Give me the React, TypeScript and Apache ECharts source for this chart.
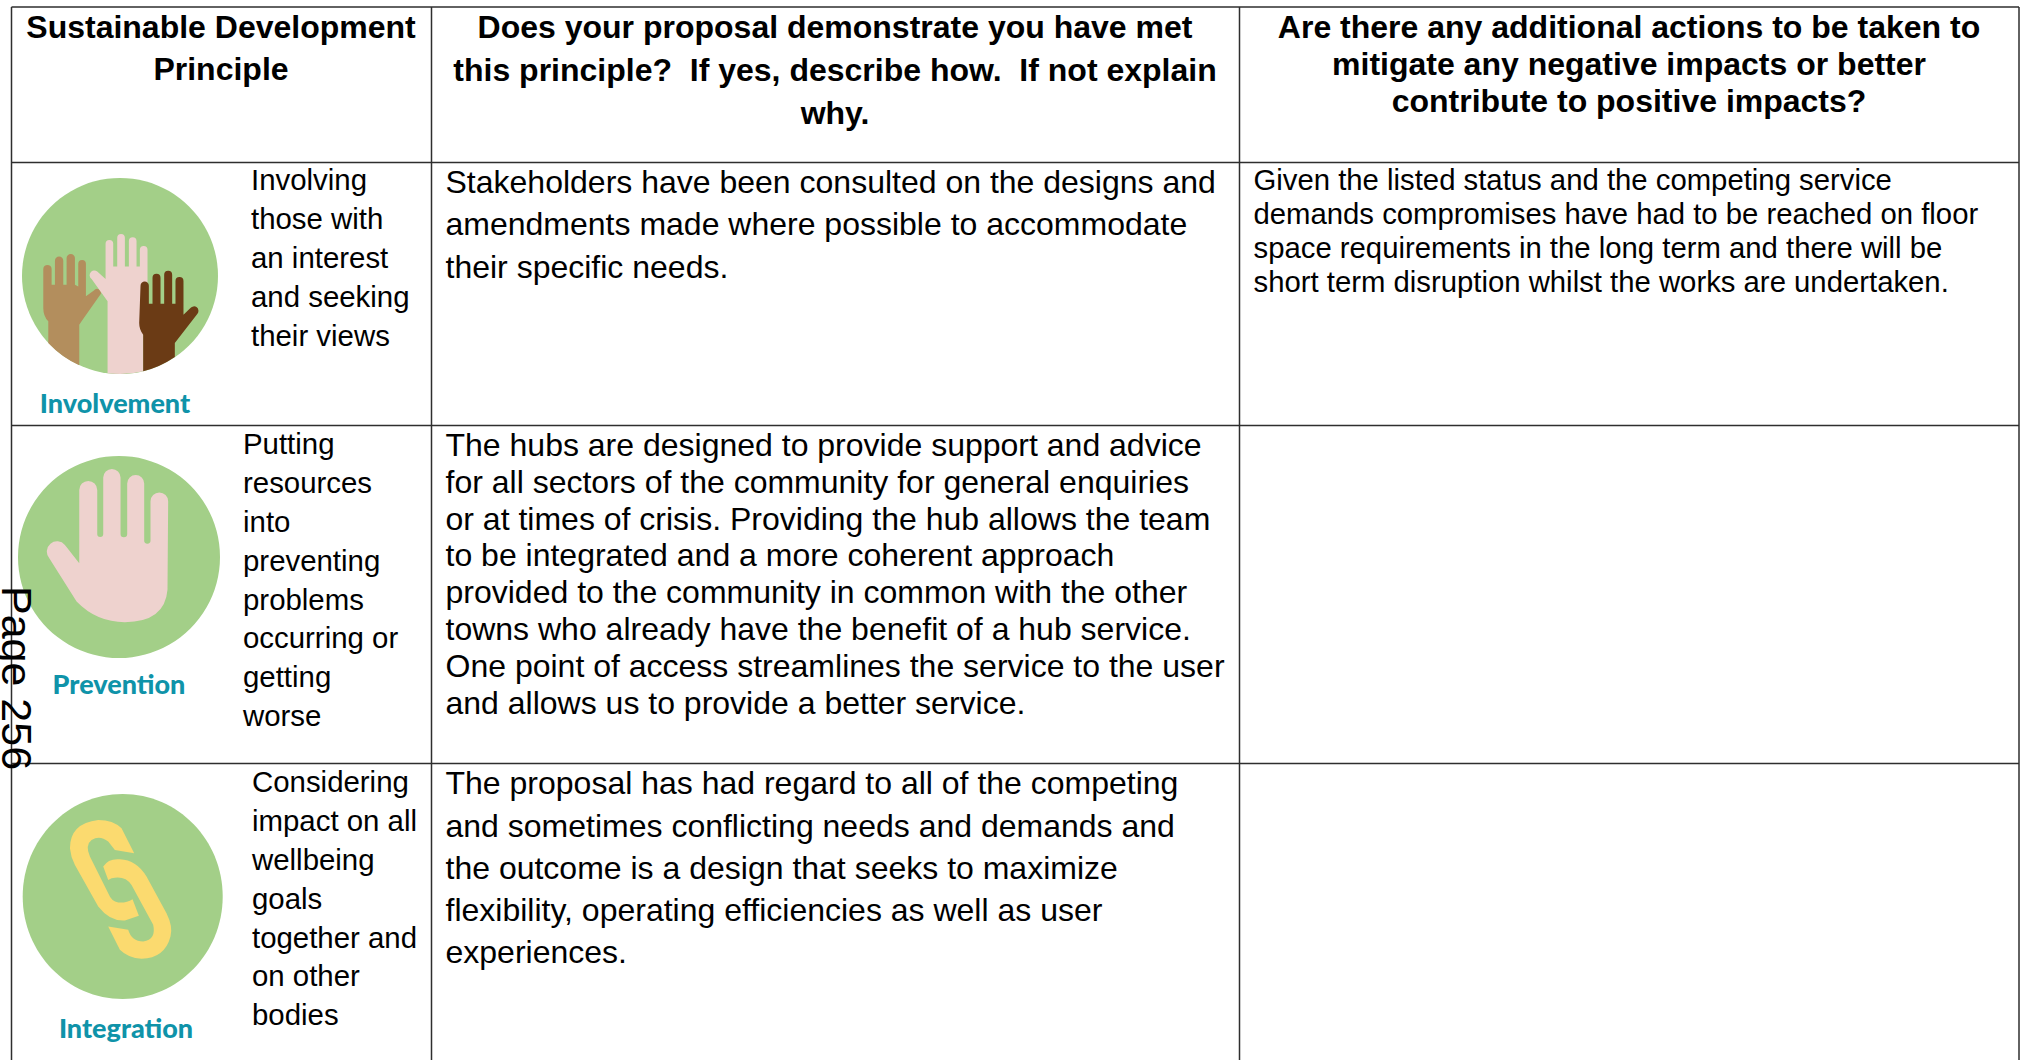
import React, { useEffect, useRef } from "react";
import * as echarts from "echarts";

const FONT = '"Liberation Sans", Arial, sans-serif';
const headers = [
  ["Sustainable Development", "Principle"],
  ["Does your proposal demonstrate you have met", "this principle?  If yes, describe how.  If not explain", "why."],
  ["Are there any additional actions to be taken to", "mitigate any negative impacts or better", "contribute to positive impacts?"],
];
const principleInvolvement = ["Involving", "those with", "an interest", "and seeking", "their views"];
const principlePrevention = ["Putting", "resources", "into", "preventing", "problems", "occurring or", "getting", "worse"];
const principleIntegration = ["Considering", "impact on all", "wellbeing", "goals", "together and", "on other", "bodies"];
const answerInvolvement = [
  "Stakeholders have been consulted on the designs and",
  "amendments made where possible to accommodate",
  "their specific needs.",
];
const answerPrevention = [
  "The hubs are designed to provide support and advice",
  "for all sectors of the community for general enquiries",
  "or at times of crisis. Providing the hub allows the team",
  "to be integrated and a more coherent approach",
  "provided to the community in common with the other",
  "towns who already have the benefit of a hub service.",
  "One point of access streamlines the service to the user",
  "and allows us to provide a better service.",
];
const answerIntegration = [
  "The proposal has had regard to all of the competing",
  "and sometimes conflicting needs and demands and",
  "the outcome is a design that seeks to maximize",
  "flexibility, operating efficiencies as well as user",
  "experiences.",
];
const mitigation = [
  "Given the listed status and the competing service",
  "demands compromises have had to be reached on floor",
  "space requirements in the long term and there will be",
  "short term disruption whilst the works are undertaken.",
];

const colX = [11.5, 431.5, 1239.5, 2019];
const rowY = [7, 162.5, 425.5, 763.5];
const BOTTOM = 1060;

const GREEN = "#a3cf88";
const PINK = "#eed2ce";
const TEAL = "#0f93a9";

const d = {
  handTan:
    "M145 1030L145 965Q130 950 130 925L130 808A12.5 12.5 0 0 1 155 808L155 855L165 855L165 783A12.5 12.5 0 0 1 190 783L190 855L200 855L200 775A12.5 12.5 0 0 1 225 775L225 855L235 860L235 792A11.5 11.5 0 0 1 258 792L258 890L282 872A12 12 0 0 1 303 882L245 965L238 975L238 1097A294 294 0 0 1 145 1030Z",
  handPink:
    "M323 1121L323 905L275 838A12 12 0 0 1 292 815L317 838L317 732A11.5 11.5 0 0 1 340 732L340 800L352 800L352 714A11.5 11.5 0 0 1 375 714L375 800L387 800L387 724A11.5 11.5 0 0 1 410 724L410 800L420 800L420 750A11.5 11.5 0 0 1 443 750L443 960L430 1000L430 1115A294 294 0 0 1 323 1121Z",
  handBrown:
    "M430 1115L430 1005Q418 990 418 970L422 858A12.5 12.5 0 0 1 447 858L447 912L458 912L458 834A12 12 0 0 1 482 834L482 912L493 912L493 825A12 12 0 0 1 517 825L517 912L527 912L527 844A12 12 0 0 1 551 844L551 945L572 925A12 12 0 0 1 593 942L525 1030L525 1072A294 294 0 0 1 430 1115Z",
  handStop:
    "M238 430L238 210A27 27 0 0 1 292 210L292 342A9 9 0 0 0 310 342L310 173A26 26 0 0 1 362 173L362 342A10 10 0 0 0 382 342L382 191A25.5 25.5 0 0 1 433 191L433 362A9.5 9.5 0 0 0 452 362L452 244A26.5 26.5 0 0 1 505 244L503 510Q495 607 375 607Q290 607 230 545L148 415A28 28 0 0 1 195 375Z",
  linkA:
    "M403 280L365 205Q340 180 295 180Q210 190 210 265Q212 290 225 315L295 440Q330 485 375 482L417 468L398 418Q380 430 355 428Q335 425 325 400L270 290Q255 255 275 240Q300 225 325 245L345 270Z",
  linkB:
    "M310 320Q325 295 360 298Q410 300 440 350L500 460Q520 500 512 530Q495 595 425 597Q385 595 360 570L325 500L385 510Q395 545 430 545Q470 540 460 495L395 375Q375 345 335 355L325 360Z",
};
Object.entries(d).forEach(([k, v]) =>
  echarts.graphic.registerShape(k, echarts.graphic.extendPath(v as any, {}) as any)
);

const CENTRAL = 0.3465;
function lines(
  arr: string[],
  x: number,
  firstBaseline: number,
  step: number,
  fontSize: number,
  fontWeight: string = "normal",
  align: string = "left"
) {
  return arr.map((t, i) => ({
    type: "text",
    x,
    y: firstBaseline + i * step - CENTRAL * fontSize,
    silent: true,
    style: {
      text: t,
      fontFamily: FONT,
      fontSize,
      fontWeight,
      fill: "#000",
      align,
      verticalAlign: "middle",
    },
  }));
}

function icon(shape: string, fill: string, ox: number, oy: number) {
  return { type: shape, x: ox, y: oy, scaleX: 1 / 3, scaleY: 1 / 3, silent: true, style: { fill } };
}

function label(text: string, x: number, y: number) {
  return {
    type: "text",
    x,
    y,
    silent: true,
    style: {
      text,
      fontFamily: "Lato, sans-serif",
      fontWeight: 900,
      fontSize: 27,
      fill: TEAL,
      align: "center",
      verticalAlign: "middle",
    },
  };
}

const LINE = { stroke: "#2e2e2e", lineWidth: 1.5 };
function hLine(y: number) {
  return { type: "line", silent: true, shape: { x1: colX[0], y1: y, x2: colX[3], y2: y }, style: LINE };
}
function vLine(x: number) {
  return { type: "line", silent: true, shape: { x1: x, y1: rowY[0], x2: x, y2: BOTTOM }, style: LINE };
}

export default function App() {
  const ref = useRef<HTMLDivElement>(null);
  useEffect(() => {
    document.body.style.margin = "0";
    document.body.style.background = "#fff";
    const chart = echarts.init(ref.current!, null, { renderer: "svg" });
    const elements: any[] = [
      { type: "rect", silent: true, shape: { x: 0, y: 0, width: 2022, height: 1060 }, style: { fill: "#fff" } },
      ...rowY.map((y) => hLine(y)),
      ...colX.map((x) => vLine(x)),

      ...lines(headers[0], 221, 38, 42, 32, "bold", "center"),
      ...lines(headers[1], 835, 38, 43, 32, "bold", "center"),
      ...lines(headers[2], 1629, 38, 37, 32, "bold", "center"),

      ...lines(principleInvolvement, 251, 190, 38.8, 29.4),
      ...lines(principlePrevention, 243, 454, 38.8, 29.4),
      ...lines(principleIntegration, 252, 792, 38.8, 29.4),

      ...lines(answerInvolvement, 445.5, 193, 42.5, 32),
      ...lines(answerPrevention, 445.5, 456, 36.8, 32),
      ...lines(answerIntegration, 445.5, 794.5, 42.2, 32),

      ...lines(mitigation, 1253.5, 190, 34, 29.3),

      { type: "circle", silent: true, shape: { cx: 120, cy: 276, r: 98 }, style: { fill: GREEN } },
      icon("handTan", "#b38e5d", 0, 0),
      icon("handPink", PINK, 0, 0),
      icon("handBrown", "#6b3b15", 0, 0),
      label("Involvement", 115, 402),

      { type: "circle", silent: true, shape: { cx: 119, cy: 557, r: 101 }, style: { fill: GREEN } },
      icon("handStop", PINK, 0, 420),
      label("Prevention", 119, 683),

      { type: "ellipse", silent: true, shape: { cx: 122.7, cy: 896.5, rx: 100, ry: 102.5 }, style: { fill: GREEN } },
      icon("linkA", "#fbda6f", 0, 760),
      icon("linkB", "#fbda6f", 0, 760),
      label("Integration", 126, 1027),

      {
        type: "text",
        x: -5,
        y: 586,
        rotation: -Math.PI / 2,
        silent: true,
        style: {
          text: "Page 256",
          fontFamily: FONT,
          fontSize: 43,
          fill: "#000",
          align: "left",
          verticalAlign: "bottom",
        },
      },
    ];
    chart.setOption({ animation: false, graphic: { elements } });
    return () => chart.dispose();
  }, []);
  return <div ref={ref} style={{ width: 2022, height: 1060 }} />;
}
